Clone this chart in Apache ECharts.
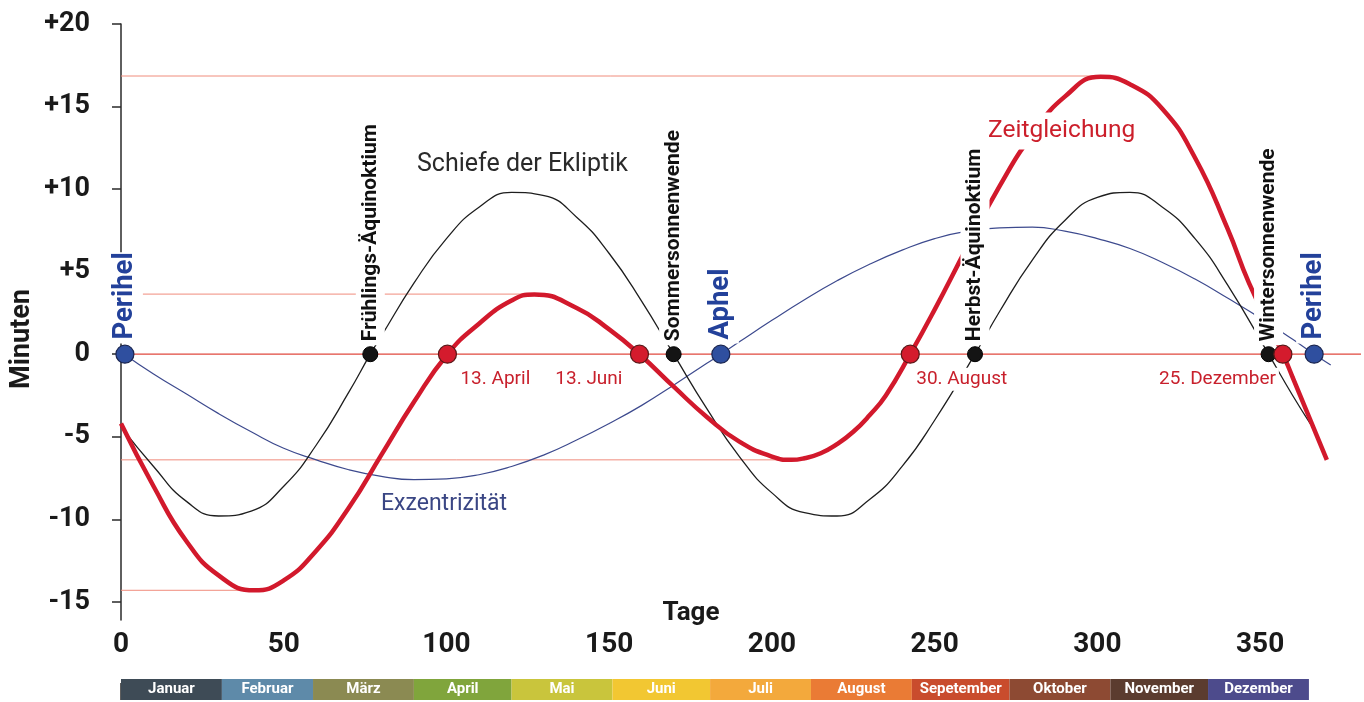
<!DOCTYPE html>
<html>
<head>
<meta charset="utf-8">
<title>Zeitgleichung</title>
<script src="https://cdn.jsdelivr.net/npm/echarts@6/dist/echarts.min.js"></script>
<style>
  html, body { margin: 0; padding: 0; background: #ffffff; }
  #chart { width: 1364px; height: 702px; }
</style>
</head>
<body>
<div id="chart"></div>
<script>
const FONT = "Roboto, 'DejaVu Sans Condensed', sans-serif";

// Zeitgleichung (rot): Tag / Minuten
const zeitDays = [0, 10, 20, 30, 41, 50, 60, 70, 80, 90, 100.3, 110, 120, 127, 140, 150, 159.3, 170, 180, 190, 200, 206, 210, 215, 220, 225, 230, 235, 242.5, 250, 260, 270, 280, 290, 301, 310, 320, 330, 340, 346.6, 357, 360, 370.5];
const zeitValues = [-4.2, -8.0, -11.3, -13.4, -14.3, -13.7, -11.9, -9.3, -6.1, -2.9, 0, 1.85, 3.25, 3.62, 2.8, 1.5, 0, -2.0, -3.8, -5.3, -6.2, -6.4, -6.3, -6.0, -5.45, -4.7, -3.7, -2.5, 0, 2.7, 6.5, 10.2, 13.3, 15.6, 16.8, 16.35, 14.85, 11.9, 7.6, 4.3, 0, -1.4, -6.4];

// Schiefe der Ekliptik (schwarz)
const schiefeDays = [0, 10, 20, 30, 40, 50, 60, 70, 76.6, 80, 90, 100, 110, 120, 130, 140, 150, 160, 169.8, 180, 190, 200, 210, 220, 230, 240, 250, 262.4, 270, 280, 290, 300, 310, 320, 330, 340, 352.6, 360, 365.4];
const schiefeValues = [-4.4, -6.8, -8.9, -9.8, -9.5, -8.0, -5.5, -2.3, 0, 1.1, 4.3, 7.0, 8.9, 9.8, 9.6, 8.3, 6.1, 3.2, 0, -3.3, -6.2, -8.4, -9.6, -9.8, -8.8, -6.8, -4.0, 0, 2.6, 5.7, 8.1, 9.5, 9.8, 8.9, 7.0, 4.2, 0, -2.5, -4.2];

// Exzentrizität (blau)
const exzDays = [1, 10, 20, 30, 40, 50, 60, 70, 80, 90, 100, 110, 120, 130, 140, 150, 160, 170, 180, 184.3, 190, 200, 210, 220, 230, 240, 250, 260, 270, 280, 290, 300, 310, 320, 330, 340, 350, 360, 366.6, 371.7];
const exzValues = [0, -1.2, -2.4, -3.6, -4.7, -5.7, -6.4, -7.0, -7.4, -7.6, -7.55, -7.3, -6.8, -6.1, -5.2, -4.2, -3.1, -1.85, -0.55, 0, 0.75, 2.05, 3.3, 4.45, 5.45, 6.3, 7.0, 7.45, 7.65, 7.7, 7.45, 7.0, 6.4, 5.55, 4.55, 3.4, 2.2, 0.9, 0, -0.65];

// Hilfslinien an den Extremwerten (von Tag 0 bis zum Extremum)
const extremDays = [301, 127, 206, 41];
const extremValues = [16.85, 3.64, -6.4, -14.3];
const nullLinieDays = [0, 381];

// Ereignisse auf der Nulllinie
const ereignisNamen = ["Frühlings-Äquinoktium", "Sommersonnenwende", "Herbst-Äquinoktium", "Wintersonnenwende"];
const ereignisTage = [76.6, 169.8, 262.4, 352.6];
const datumNamen = ["13. April", "13. Juni", "30. August", "25. Dezember"];
const datumTage = [100.3, 159.3, 242.5, 357];
const bahnNamen = ["Perihel", "Aphel", "Perihel"];
const bahnTage = [1.2, 184.3, 366.6];

// Monatsleiste
const monatsNamen = ["Januar", "Februar", "März", "April", "Mai", "Juni", "Juli", "August", "Sepetember", "Oktober", "November", "Dezember"];
const monatsAnfang = [0, 31, 59, 90, 120, 151, 181, 212, 243, 273, 304, 334];
const monatsEnde = [31, 59, 90, 120, 151, 181, 212, 243, 273, 304, 334, 365];
const monatsFarben = ["#3e4b56", "#5e8aa9", "#8b8a52", "#80a53c", "#c9c53c", "#f2c732", "#f3a93c", "#ea7b35", "#c94c2d", "#8d4a33", "#5b3c2f", "#4d4b8c"];

const xTicks = [0, 50, 100, 150, 200, 250, 300, 350];
const yTicks = [-15, -10, -5, 0, 5, 10, 15, 20];

// Stil für Datum-Beschriftungen (links/rechts vom Punkt)
const datumAlign = ["left", "right", "left", "right"];
const datumOffset = [10, -14, 3, -4];

const X_MAX = 381;

const toPairs = (days, values) => days.map((d, i) => [d, values[i]]);

const refLine = (days, value, color, width) => ({
  type: "line",
  xAxisIndex: 0,
  yAxisIndex: 0,
  z: 1,
  silent: true,
  symbol: "none",
  data: days.map((d) => [d, value]),
  lineStyle: { color, width },
});

const curve = (name, data, color, width, z) => ({
  type: "line",
  name,
  xAxisIndex: 0,
  yAxisIndex: 0,
  z,
  silent: true,
  smooth: true,
  showSymbol: false,
  data,
  lineStyle: { color, width },
});

const verticalLabel = (size, color) => ({
  show: true,
  formatter: "{b}",
  position: "top",
  distance: 1,
  rotate: 90,
  align: "left",
  verticalAlign: "middle",
  fontFamily: FONT,
  fontWeight: "bold",
  fontSize: size,
  color,
  opacity: 1,
  backgroundColor: "#ffffff",
  padding: [4, 0, 4, 4],
});

const chart = echarts.init(document.getElementById("chart"));

chart.setOption({
  animation: false,
  backgroundColor: "#ffffff",
  grid: [
    { left: 121, right: 3, top: 24, bottom: 82 },
    { left: 121, right: 3, top: 679, height: 21 },
  ],
  xAxis: [
    { gridIndex: 0, type: "value", min: 0, max: X_MAX, show: false },
    {
      gridIndex: 1, type: "value", min: 0, max: X_MAX, position: "top",
      axisLine: { show: false },
      axisTick: { show: true, customValues: xTicks, length: 17, lineStyle: { color: "#2a2a2a", width: 1.5 } },
      axisLabel: {
        customValues: xTicks, margin: 20,
        fontFamily: FONT, fontWeight: "bold", fontSize: 28, color: "#1a1a1a",
      },
      splitLine: { show: false },
    },
  ],
  yAxis: [
    {
      gridIndex: 0, type: "value", min: -16.1, max: 20,
      axisLine: { show: true, lineStyle: { color: "#2a2a2a", width: 1.5 } },
      axisTick: { show: true, customValues: yTicks, length: 9, lineStyle: { color: "#2a2a2a", width: 1.5 } },
      axisLabel: {
        customValues: yTicks, margin: 31,
        formatter: (v) => (v > 0 ? "+" + v : String(v)),
        fontFamily: FONT, fontWeight: "bold", fontSize: 27, color: "#1a1a1a",
      },
      splitLine: { show: false },
    },
    { gridIndex: 1, type: "value", min: 0, max: 1, show: false },
  ],
  graphic: [
    {
      type: "text", x: 691, y: 613, z: 100,
      style: { text: "Tage", font: "bold 26px " + FONT, fill: "#1a1a1a", align: "center", verticalAlign: "middle" },
    },
    {
      type: "text", x: 22, y: 339, rotation: Math.PI / 2, z: 100,
      style: { text: "Minuten", font: "bold 27px " + FONT, fill: "#1a1a1a", align: "center", verticalAlign: "middle" },
    },
    {
      type: "text", x: 417, y: 165, z: 100,
      style: { text: "Schiefe der Ekliptik", font: "25px " + FONT, fill: "#2a2a2a", align: "left", verticalAlign: "middle" },
    },
    {
      type: "text", x: 984, y: 131, z: 100,
      style: {
        text: "Zeitgleichung", font: "24.5px " + FONT, fill: "#cc1f2b", align: "left", verticalAlign: "middle",
        backgroundColor: "#ffffff", padding: [6, 4, 6, 4],
      },
    },
    {
      type: "text", x: 381, y: 504, z: 100,
      style: { text: "Exzentrizität", font: "23px " + FONT, fill: "#3a4684", align: "left", verticalAlign: "middle" },
    },
  ],
  series: [
    refLine(nullLinieDays, 0, "#e0483e", 1.2),
    ...extremDays.map((d, i) => refLine([0, d], extremValues[i], "#f08c7c", 1)),

    curve("Exzentrizität", toPairs(exzDays, exzValues), "#3d4a8e", 1.2, 3),
    curve("Schiefe der Ekliptik", toPairs(schiefeDays, schiefeValues), "#1e1e1e", 1.3, 4),
    curve("Zeitgleichung", toPairs(zeitDays, zeitValues), "#d2192c", 4.5, 5),

    {
      type: "scatter", name: "Ereignisse", xAxisIndex: 0, yAxisIndex: 0, z: 10, silent: true,
      symbolSize: 15,
      itemStyle: { color: "#141414", borderColor: "#000000", borderWidth: 1, opacity: 1 },
      data: ereignisTage.map((d, i) => ({ name: ereignisNamen[i], value: [d, 0] })),
      label: verticalLabel(21, "#111111"),
    },
    {
      type: "scatter", name: "Bahnpunkte", xAxisIndex: 0, yAxisIndex: 0, z: 11, silent: true,
      symbolSize: 18,
      itemStyle: { color: "#2f4f9f", borderColor: "#1b2650", borderWidth: 1.2, opacity: 1 },
      data: bahnTage.map((d, i) => ({ name: bahnNamen[i], value: [d, 0] })),
      label: verticalLabel(27.5, "#23419a"),
    },
    {
      type: "scatter", name: "Nullstellen", xAxisIndex: 0, yAxisIndex: 0, z: 12, silent: true,
      symbolSize: 18,
      itemStyle: { color: "#d41b2d", borderColor: "#5a1818", borderWidth: 1.2, opacity: 1 },
      data: datumTage.map((d, i) => ({
        name: datumNamen[i],
        value: [d, 0],
        label: { align: datumAlign[i], offset: [datumOffset[i], 0] },
      })),
      label: {
        show: true, formatter: "{b}", position: "bottom", distance: 4,
        verticalAlign: "top",
        fontFamily: FONT, fontSize: 19, color: "#c8202c", opacity: 1,
        backgroundColor: "#ffffff", padding: [2, 3, 2, 3],
      },
    },

    {
      type: "custom", name: "Monate", xAxisIndex: 1, yAxisIndex: 1, z: 1, silent: true,
      data: monatsAnfang.map((s, i) => [s, monatsEnde[i]]),
      encode: { x: [0, 1] },
      renderItem: (params, api) => {
        const p0 = api.coord([api.value(0), 0]);
        const p1 = api.coord([api.value(1), 1]);
        return {
          type: "rect",
          shape: { x: p0[0], y: p1[1], width: p1[0] - p0[0], height: p0[1] - p1[1] },
          style: { fill: monatsFarben[params.dataIndex] },
          textContent: {
            style: { text: monatsNamen[params.dataIndex], fill: "#ffffff", font: "bold 15px " + FONT },
          },
          textConfig: { position: "inside" },
        };
      },
    },
  ],
});
</script>
</body>
</html>
